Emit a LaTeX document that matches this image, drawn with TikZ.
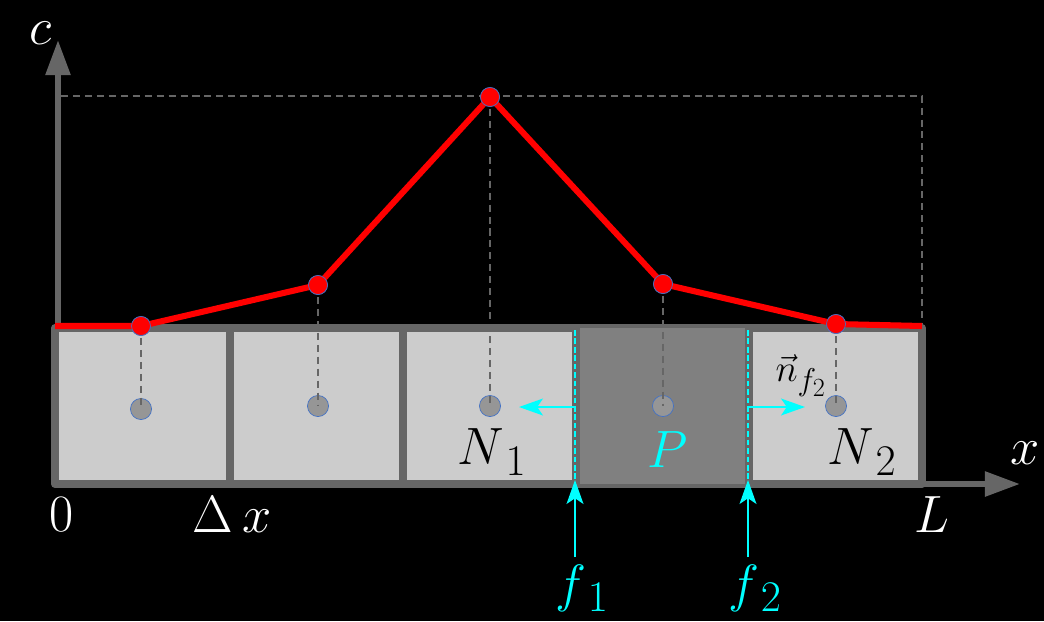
\documentclass[tikz,border=0pt]{standalone}
\usepackage{amsmath}
\usetikzlibrary{arrows.meta}

\definecolor{axisgray}{RGB}{102,102,102}
\definecolor{cellgray}{RGB}{204,204,204}
\definecolor{pgray}{RGB}{128,128,128}
\definecolor{dotgray}{RGB}{150,150,150}
\definecolor{dotblue}{RGB}{68,114,196}
\definecolor{fluxcyan}{RGB}{0,255,255}

\tikzset{
  axisline/.style={draw=axisgray, line width=4.3pt, -{Triangle[length=25pt,width=17pt]}},
  valuedot/.style={circle, fill=red, draw=dotblue, line width=0.5pt, inner sep=0pt, minimum size=13.5pt},
  centerdot/.style={circle, fill=dotgray, draw=dotblue, line width=0.5pt, inner sep=0pt, minimum size=15pt},
  guide/.style={draw=axisgray, line width=1pt, dash pattern=on 5pt off 3.5pt},
  fluxarrow/.style={draw=fluxcyan, line width=1.4pt, -{Stealth[length=17pt,width=12pt,inset=4pt]}},
  facet/.style={draw=fluxcyan, line width=1.8pt, dash pattern=on 4pt off 2pt},
  lbl/.style={font=\Huge, scale=1.5, inner sep=0pt},
}

\begin{document}
\begin{tikzpicture}[x=0.025cm, y=-0.025cm]

  % Background
  \fill[black] (0,0) rectangle (1044,621);
  \useasboundingbox (0,0) rectangle (1044,621);

  % Axes
  \draw[axisline] (58,484) -- (58,40);
  \draw[axisline] (900,484) -- (1020,484);

  % Cells
  \draw[draw=axisgray, fill=cellgray, line width=5.7pt, line join=round] (55,328) rectangle (922,484);
  \fill[pgray] (576,328) rectangle (749,484);
  \foreach \xd in {230,403,576,749}
    \draw[axisgray, line width=5.7pt] (\xd,328) -- (\xd,484);

  % Cell centres
  \node[centerdot] (c0) at (141,409) {};
  \node[centerdot] (c1) at (318,406) {};
  \node[centerdot] (c2) at (490,406) {};
  \node[centerdot] (c3) at (663,406) {};
  \node[centerdot] (c4) at (836,406) {};

  % Values
  \coordinate (left) at (55,326);
  \coordinate (right) at (922,326);
  \node[valuedot] (v0) at (141,326) {};
  \node[valuedot] (v1) at (318,285) {};
  \node[valuedot] (v2) at (490,97) {};
  \node[valuedot] (v3) at (663,284) {};
  \node[valuedot] (v4) at (836,324) {};

  % Guides
  \foreach \i in {0,...,4}
    \draw[guide] (v\i.center) -- (c\i.center);
  \coordinate (topleft) at (61,96);
  \coordinate (topright) at (922,96);
  \coordinate (botright) at (922,326);
  \draw[guide] (topleft) -- (topright) -- (botright);

  % Profile
  \draw[red, line width=4.3pt, line join=round]
    (left) -- (v0.center) -- (v1.center) -- (v2.center) -- (v3.center) -- (v4.center) -- (right);
  \foreach \i in {0,...,4}
    \node[valuedot] at (v\i) {};

  % Faces
  \coordinate (f1top) at (575,330);
  \coordinate (f1bot) at (575,480);
  \coordinate (f2top) at (748,330);
  \coordinate (f2bot) at (748,480);
  \draw[facet] (f1top) -- (575,486);
  \draw[facet] (f2top) -- (748,486);
  \coordinate (f1tail) at (575,557);
  \coordinate (f2tail) at (748,557);
  \draw[fluxarrow] (f1tail) -- (f1bot);
  \draw[fluxarrow] (f2tail) -- (f2bot);

  % Normals
  \coordinate (n1tail) at (575,407);
  \coordinate (n1tip) at (519,407);
  \coordinate (n2tail) at (749,407);
  \coordinate (n2tip) at (805,407);
  \draw[fluxarrow] (n1tail) -- (n1tip);
  \draw[fluxarrow] (n2tail) -- (n2tip);

  % Labels
  \node[lbl, white] (lc) at (41,33) {$c$};
  \node[lbl, white] (lx) at (1025,453) {$x$};
  \node[lbl, white] (l0) at (62,515) {$0$};
  \node[lbl, white] (ldx) at (232,515) {$\Delta\,x$};
  \node[lbl, white] (lL) at (932,515) {$L$};
  \node[lbl, black] (lN1) at (492,452) {$N_{\,1}$};
  \node[lbl, fluxcyan] (lP) at (668,450) {$P$};
  \node[lbl, black] (lN2) at (862,452) {$N_{\,2}$};
  \node[lbl, black, scale=0.72] (ln) at (801,376) {$\vec{n}_{f_2}$};
  \node[lbl, fluxcyan] (lf1) at (582,588) {$f_{\,1}$};
  \node[lbl, fluxcyan] (lf2) at (755,588) {$f_{\,2}$};

\end{tikzpicture}
\end{document}
